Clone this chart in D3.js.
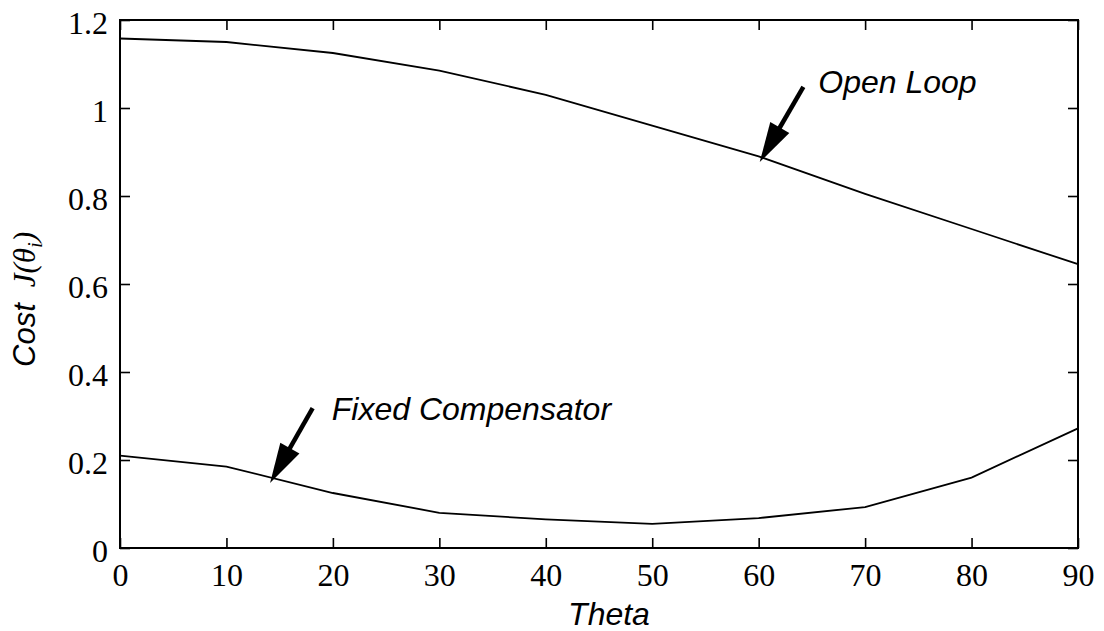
<!DOCTYPE html>
<html><head><meta charset="utf-8">
<script src="https://cdn.jsdelivr.net/npm/d3@7"></script>
<style>
body{margin:0;background:#fff;}
svg{display:block;}
</style></head>
<body>
<script>
// ---- data ----
const theta = [0, 10, 20, 30, 40, 50, 60, 70, 80, 90];
const openLoop = [1.158, 1.15, 1.125, 1.085, 1.03, 0.96, 0.89, 0.805, 0.725, 0.645];
const fixedComp = [0.21, 0.185, 0.125, 0.08, 0.065, 0.055, 0.068, 0.093, 0.16, 0.272];
const xTicks = [0, 10, 20, 30, 40, 50, 60, 70, 80, 90];
const yTicks = [0, 0.2, 0.4, 0.6, 0.8, 1, 1.2];
// annotations: [label, textX, textY, tailX, tailY, tipX, tipY] in data units
const notes = [
  ["Open Loop", 65.6, 1.034, 64.2, 1.048, 60.1, 0.877],
  ["Fixed Compensator", 19.9, 0.291, 18.1, 0.318, 14.1, 0.148]
];

const W = 1104, H = 631;
const svg = d3.select("body").append("svg").attr("width", W).attr("height", H);
const x = d3.scaleLinear().domain([0, 90]).range([120, 1078]);
const y = d3.scaleLinear().domain([0, 1.2]).range([548, 20]);

const serif = "'Liberation Serif','Times New Roman',serif";
const sans = "'Liberation Sans',Arial,Helvetica,sans-serif";

// box
svg.append("rect").attr("x", x(0)).attr("y", y(1.2))
  .attr("width", x(90) - x(0)).attr("height", y(0) - y(1.2))
  .attr("fill", "none").attr("stroke", "#000").attr("stroke-width", 2);

function styleAxis(g, showText, dy) {
  g.select(".domain").remove();
  g.selectAll(".tick line").attr("stroke", "#000").attr("stroke-width", 1.6);
  g.selectAll(".tick text").attr("fill", "#000").attr("dy", dy)
    .style("font-family", serif).style("font-size", "32px");
  if (!showText) g.selectAll(".tick text").remove();
}

svg.append("g").attr("transform", `translate(0,${y(0)})`)
  .call(d3.axisBottom(x).tickValues(xTicks).tickSize(-10).tickPadding(15).tickFormat(d3.format("d")))
  .call(g => styleAxis(g, true, "0.71em"));
svg.append("g").attr("transform", `translate(0,${y(1.2)})`)
  .call(d3.axisTop(x).tickValues(xTicks).tickSize(-10))
  .call(g => styleAxis(g, false));
svg.append("g").attr("transform", `translate(${x(0)},0)`)
  .call(d3.axisLeft(y).tickValues(yTicks).tickSize(-10).tickPadding(12).tickFormat(d3.format("~g")))
  .call(g => styleAxis(g, true, "0.42em"));
svg.append("g").attr("transform", `translate(${x(90)},0)`)
  .call(d3.axisRight(y).tickValues(yTicks).tickSize(-10))
  .call(g => styleAxis(g, false));

// lines
const line = d3.line().x((d, i) => x(theta[i])).y(d => y(d));
[openLoop, fixedComp].forEach(s => {
  svg.append("path").datum(s).attr("d", line)
    .attr("fill", "none").attr("stroke", "#000").attr("stroke-width", 1.8);
});

// annotations
notes.forEach(([label, tx, ty, ax, ay, bx, by]) => {
  const x0 = x(ax), y0 = y(ay), x1 = x(bx), y1 = y(by);
  const dx = x1 - x0, dy = y1 - y0, L = Math.hypot(dx, dy);
  const ux = dx / L, uy = dy / L, hl = 40, hw = 11;
  const bxp = x1 - ux * hl, byp = y1 - uy * hl;
  svg.append("line").attr("x1", x0).attr("y1", y0).attr("x2", bxp + ux * 2).attr("y2", byp + uy * 2)
    .attr("stroke", "#000").attr("stroke-width", 4.5);
  svg.append("path").attr("d", `M${x1},${y1}L${bxp - uy * hw},${byp + ux * hw}L${bxp + uy * hw},${byp - ux * hw}Z`)
    .attr("fill", "#000");
  svg.append("text").attr("x", x(tx)).attr("y", y(ty)).text(label)
    .style("font-family", sans).style("font-style", "italic").style("font-size", "32px").attr("fill", "#000");
});

// axis titles
svg.append("text").attr("x", (x(0) + x(90)) / 2 + 10).attr("y", 625).attr("text-anchor", "middle")
  .style("font-family", sans).style("font-style", "italic").style("font-size", "32px").text("Theta");

const yl = svg.append("text").attr("transform", "translate(35,367) rotate(-90)")
  .style("font-size", "31px").attr("fill", "#000");
yl.append("tspan").style("font-family", sans).style("font-style", "italic").text("Cost");
yl.append("tspan").style("font-family", serif).style("font-style", "italic").attr("dx", 16).text("J(\u03B8");
yl.append("tspan").style("font-family", serif).style("font-style", "italic").style("font-size", "21px").attr("dy", 7).text("i");
yl.append("tspan").style("font-family", serif).style("font-style", "italic").attr("dy", -7).text(")");
</script>
</body></html>
